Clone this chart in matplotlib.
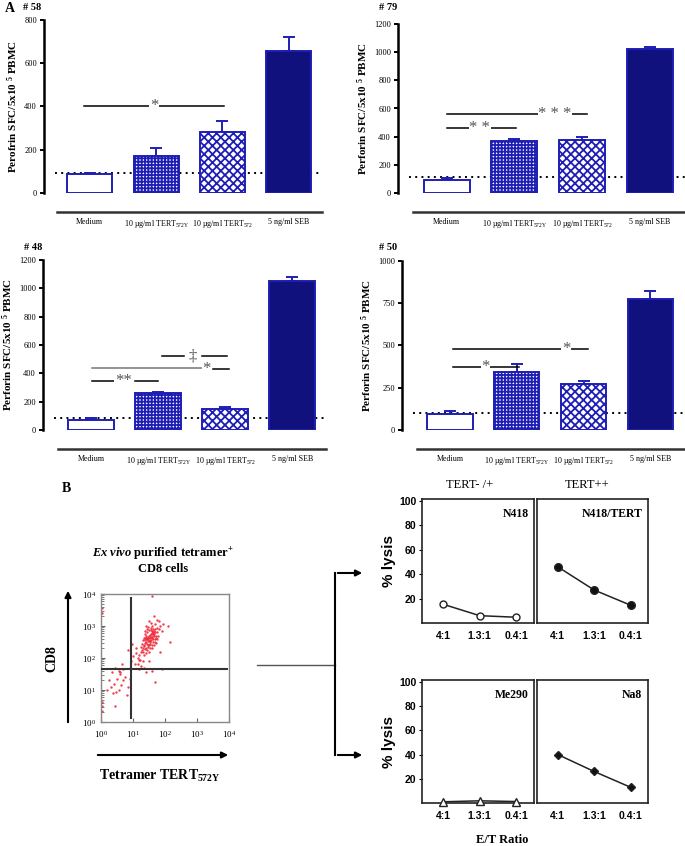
import matplotlib.pyplot as plt
import numpy as np
from matplotlib.patches import FancyArrowPatch
from matplotlib.lines import Line2D

plt.rcParams['font.family'] = 'Liberation Serif'
plt.rcParams['mathtext.fontset'] = 'custom'
plt.rcParams['mathtext.rm'] = 'Liberation Serif'
plt.rcParams['mathtext.it'] = 'Liberation Serif:italic:bold'
plt.rcParams['mathtext.bf'] = 'Liberation Serif:bold'
plt.rcParams['mathtext.default'] = 'regular'
plt.rcParams['hatch.linewidth'] = 1.3

# ---- data: panel A (perforin ELISPOT) ----
groups = ['Medium', '10 µg/ml TERT$_{572Y}$', '10 µg/ml TERT$_{572}$', '5 ng/ml SEB']

p58_vals = [90, 170, 284, 656]
p58_err = [3, 36, 51, 64]
p58_base = 93

p79_vals = [95, 366, 378, 1025]
p79_err = [15, 14, 17, 14]
p79_base = 111

p48_vals = [72, 259, 148, 1052]
p48_err = [10, 12, 17, 30]
p48_base = 87

p50_vals = [93, 344, 270, 778]
p50_err = [19, 46, 21, 43]
p50_base = 102

# ---- data: panel B (lysis) ----
ratios = ['4:1', '1.3:1', '0.4:1']
n418 = [15.4, 6.0, 4.7]
n418_tert = [46, 27, 14.6]
me290 = [1.0, 1.8, 1.2]
na8 = [40, 26, 13]

# flow events, log10 coordinates
flow_logx = [1.45, 1.50, 1.55, 1.60, 1.40, 1.65, 1.52, 1.58, 1.48, 1.70,
             1.35, 1.62, 1.42, 1.75, 1.30, 1.55, 1.68, 1.38, 1.72, 1.50,
             1.45, 1.60, 1.25, 1.80, 1.34, 1.66, 1.44, 1.56, 1.62, 1.40,
             1.28, 1.76, 1.52, 1.47, 1.58, 1.36, 1.70, 1.64, 1.54, 1.42,
             1.20, 1.85, 1.32, 1.78, 1.50, 1.46, 1.60, 1.38, 1.66, 1.74,
             1.56, 1.82, 1.30, 1.24, 1.48, 1.68, 1.52, 1.44, 1.62, 1.36,
             1.15, 1.10, 1.22, 1.90, 1.95, 1.40, 1.58, 1.46, 1.72, 1.34,
             1.49, 1.57, 1.63, 1.41, 1.53, 1.67, 1.37, 1.59, 1.43, 1.51,
             1.33, 1.47, 1.61, 1.55, 1.39, 1.69, 1.27, 1.73, 1.45, 1.53,
             1.65, 1.75, 1.50, 2.10, 2.15, 1.85, 1.58,
             1.00, 0.95, 1.05, 0.90, 1.15, 1.30, 1.60, 1.40, 1.90, 1.70,
             1.20, 0.85, 1.35, 1.50, 1.25, 1.08, 1.18, 0.98,
             0.45, 0.55, 0.60, 0.70, 0.35, 0.50, 0.30, 0.40, 0.55, 0.62,
             0.75, 0.20, 0.48, 0.70, 0.85, 0.90, 0.45, 0.80, 0.25, 0.60,
             0.38, 0.65, 0.02, 0.02, 0.04, 0.02, 0.03]
flow_logy = [2.60, 2.70, 2.55, 2.65, 2.50, 2.75, 2.45, 2.85, 2.35, 2.60,
             2.40, 2.50, 2.70, 2.80, 2.30, 2.95, 2.90, 2.55, 2.70, 2.20,
             2.80, 3.00, 2.20, 2.90, 2.62, 2.42, 2.44, 2.76, 2.82, 2.32,
             2.45, 2.58, 2.62, 2.52, 2.40, 2.75, 3.05, 2.58, 2.32, 2.15,
             2.10, 3.00, 2.18, 2.68, 2.88, 2.66, 2.30, 2.85, 2.68, 2.95,
             3.10, 3.15, 2.55, 2.35, 2.98, 2.50, 2.72, 2.25, 2.92, 2.28,
             2.00, 2.15, 1.95, 2.85, 3.05, 3.00, 2.62, 2.40, 2.48, 2.10,
             2.57, 2.67, 2.73, 2.63, 2.49, 2.83, 2.47, 2.78, 2.58, 2.40,
             2.36, 2.61, 2.77, 2.86, 2.64, 2.82, 2.26, 2.64, 2.90, 2.52,
             3.30, 3.20, 3.15, 3.00, 2.50, 2.20, 3.95,
             2.05, 1.90, 1.80, 1.70, 1.80, 1.90, 1.60, 1.55, 1.65, 1.25,
             1.65, 2.25, 1.70, 1.90, 1.75, 2.30, 1.95, 2.45,
             1.70, 1.60, 1.55, 1.65, 1.55, 1.35, 1.10, 1.20, 1.00, 1.15,
             1.40, 1.00, 0.95, 1.30, 1.10, 1.35, 0.50, 0.85, 1.30, 1.50,
             0.90, 1.80, 0.50, 0.35, 0.62, 3.40, 3.55]

W, H = 685, 846
fig = plt.figure(figsize=(W / 100, H / 100), dpi=100)


def px_axes(left, top, right, bottom):
    return fig.add_axes([left / W, 1 - bottom / H, (right - left) / W, (bottom - top) / H])


def fpt(x, y):
    return (x / W, 1 - y / H)


blue = '#1e1eb4'
navy = '#11117e'


def bar_panel(box, vals, errs, base, ymax, yticks, ylabel, xlim, lines, marks):
    ax = px_axes(*box)
    # spine placement first: moving a spine resets the ticks
    for s in ['top', 'right']:
        ax.spines[s].set_visible(False)
    ax.spines['bottom'].set_position(('outward', 14))
    ax.spines['bottom'].set_bounds(-0.5, 3.5)
    ax.spines['bottom'].set_linewidth(1.8)
    ax.spines['bottom'].set_color('#333333')
    ax.spines['left'].set_linewidth(1.8)
    ax.spines['left'].set_bounds(0, ymax)

    x = np.arange(len(groups))
    styles = [dict(facecolor='white'),
              dict(facecolor='white', hatch='+++++'),
              dict(facecolor='white', hatch='xxxx'),
              dict(facecolor=navy)]
    for i in range(len(groups)):
        ax.bar(x[i], vals[i], width=0.68, edgecolor=blue, linewidth=1.4, zorder=3, **styles[i])
    ax.errorbar(x, vals, yerr=[np.zeros(len(errs)), errs], fmt='none', ecolor=blue,
                elinewidth=1.4, capsize=4, capthick=1.4, zorder=2)
    ax.axhline(base, xmin=0.04, xmax=1, color='black', ls=(0, (1, 2.2)), lw=1.4, zorder=1)
    for x0, x1, y, c in lines:
        ax.plot([x0, x1], [y, y], color=c, lw=1.1, zorder=4)
    for xm, y, s in marks:
        ax.text(xm, y, s, ha='center', va='center', fontsize=12, color='#555555',
                zorder=5, bbox=dict(facecolor='white', edgecolor='none', pad=0.5))
    ax.set_xlim(*xlim)
    ax.set_ylim(0, ymax)
    ax.set_yticks(yticks)
    ax.set_xticks(x)
    ax.set_xticklabels(groups, fontsize=5.8)
    ax.tick_params(axis='x', length=0, pad=4)
    ax.tick_params(axis='y', labelsize=6, length=3, width=1.4, pad=2)
    ax.set_ylabel(ylabel, fontsize=8, fontweight='bold', labelpad=3)
    ax.patch.set_visible(False)
    return ax


lab_perofrin = 'Perofrin SFC/5x10 $^{5}$ PBMC'
lab_perforin = 'Perforin SFC/5x10 $^{5}$ PBMC'

bar_panel((44, 20, 322, 193), p58_vals, p58_err, p58_base, 800, [0, 200, 400, 600, 800],
          lab_perofrin, (-0.69, 3.5),
          [(-0.09, 2.02, 400, 'black')],
          [(0.97, 400, '*')])

bar_panel((398, 24, 685, 193), p79_vals, p79_err, p79_base, 1200, [0, 200, 400, 600, 800, 1000, 1200],
          lab_perforin, (-0.72, 3.52),
          [(0.01, 2.07, 560, 'black'), (0.01, 1.03, 465, 'black')],
          [(1.6, 560, '* * *'), (0.49, 465, '* *')])

bar_panel((43, 260, 325, 430), p48_vals, p48_err, p48_base, 1200, [0, 200, 400, 600, 800, 1000, 1200],
          lab_perforin, (-0.72, 3.49),
          [(0.01, 0.36, 346, 'black'), (0.66, 1.0, 346, 'black'),
           (0.01, 1.66, 435, '#777777'), (1.82, 2.06, 428, 'black'),
           (1.06, 1.39, 522, 'black'), (1.66, 2.03, 522, 'black')],
          [(0.48, 346, '**'), (1.72, 432, '*'), (1.52, 522, '‡')])

bar_panel((402, 261, 685, 430), p50_vals, p50_err, p50_base, 1000, [0, 250, 500, 750, 1000],
          lab_perforin, (-0.72, 3.52),
          [(0.04, 2.07, 482, 'black'), (0.04, 1.04, 374, 'black')],
          [(1.74, 482, '*'), (0.53, 374, '*')])

fig.text(*fpt(5, 9), 'A', fontsize=10, fontweight='bold', va='center')
for (tx, ty), t in zip([(23, 8), (379, 8), (24, 248), (379, 247)], ['# 58', '# 79', '# 48', '# 50']):
    fig.text(*fpt(tx, ty), t, fontsize=7.5, fontweight='bold', va='center')

# ---- panel B: flow dot plot ----
fig.text(*fpt(62, 488), 'B', fontsize=10, fontweight='bold', va='center')
fig.text(*fpt(163, 560), '$\\it{Ex\\ vivo}$ purified tetramer$^{+}$\nCD8 cells', fontsize=9,
         fontweight='bold', ha='center', va='center', linespacing=1.1)

fax = px_axes(101, 594, 229, 722)
fax.scatter(10 ** np.array(flow_logx), 10 ** np.array(flow_logy), s=3, color='#ee2b3b',
            linewidths=0, alpha=0.9, zorder=2)
fax.set_xscale('log')
fax.set_yscale('log')
fax.set_xlim(1, 1e4)
fax.set_ylim(1, 1e4)
decades = [1, 10, 100, 1000, 10000]
fax.set_xticks(decades)
fax.set_yticks(decades)
fax.plot([10 ** 0.93, 10 ** 0.93], [10 ** 0.12, 10 ** 3.87], color='#333333', lw=1.5, zorder=3)
fax.plot([10 ** 0.0, 10 ** 3.93], [10 ** 1.66, 10 ** 1.66], color='#333333', lw=1.5, zorder=3)
for s in fax.spines.values():
    s.set_color('#888888')
    s.set_linewidth(1)
fax.tick_params(which='both', direction='in', top=False, right=False, labelsize=6.5, color='#666666')
fax.tick_params(which='major', length=3)
fax.tick_params(which='minor', length=2)
fax.tick_params(axis='x', pad=5)

fig.add_artist(FancyArrowPatch(fpt(68, 725), fpt(68, 588), transform=fig.transFigure,
                               arrowstyle='-|>', mutation_scale=9, lw=1.5, color='black'))
fig.add_artist(FancyArrowPatch(fpt(95, 755), fpt(231, 755), transform=fig.transFigure,
                               arrowstyle='-|>', mutation_scale=9, lw=1.5, color='black'))
fig.text(*fpt(52, 659), 'CD8', fontsize=10, fontweight='bold', rotation=90, ha='center', va='center')
fig.text(*fpt(160, 776), 'Tetramer TERT$_{572Y}$', fontsize=10, fontweight='bold', ha='center', va='center')

fig.add_artist(Line2D([257 / W, 335 / W], [1 - 665 / H, 1 - 665 / H], transform=fig.transFigure,
                      color='#555555', lw=1))
fig.add_artist(Line2D([335 / W, 335 / W], [1 - 573 / H, 1 - 755 / H], transform=fig.transFigure,
                      color='black', lw=1.5))
for yy in (573, 755):
    fig.add_artist(FancyArrowPatch(fpt(335, yy), fpt(365, yy), transform=fig.transFigure,
                                   arrowstyle='-|>', mutation_scale=9, lw=1.5, color='black'))


# ---- panel B: lysis ----
def lysis_panel(box, vals, marker, mfc, ms, name, show_y):
    ax = px_axes(*box)
    ax.plot(range(len(ratios)), vals, color='#222222', lw=1.1, marker=marker, mfc=mfc,
            mec='#222222', ms=ms, mew=1, clip_on=False, zorder=3)
    ax.set_xlim(-0.57, 2.48)
    ax.set_ylim(0, 101.5)
    ax.set_xticks(range(len(ratios)))
    ax.set_xticklabels(ratios, fontfamily='Liberation Sans', fontweight='bold', fontsize=7.5)
    ax.tick_params(axis='x', length=0, pad=6)
    ax.set_yticks([20, 40, 60, 80, 100])
    if show_y:
        ax.set_yticklabels(['20', '40', '60', '80', '100'], fontfamily='Liberation Sans',
                           fontweight='bold', fontsize=7.5)
        ax.tick_params(axis='y', length=2, pad=2)
        ax.set_ylabel('% lysis', fontfamily='Liberation Sans', fontweight='bold', fontsize=11, labelpad=2)
    else:
        ax.set_yticklabels([])
        ax.tick_params(axis='y', length=0)
    for s in ax.spines.values():
        s.set_linewidth(1.2)
        s.set_color('#222222')
    ax.text(0.95, 0.93, name, transform=ax.transAxes, ha='right', va='top',
            fontsize=8.5, fontweight='bold')
    return ax


lysis_panel((422, 499, 534, 623), n418, 'o', 'white', 5, 'N418', True)
lysis_panel((537, 499, 648, 623), n418_tert, 'o', '#111111', 5.5, 'N418/TERT', False)
lysis_panel((422, 680, 534, 803), me290, '^', 'white', 5.5, 'Me290', True)
lysis_panel((537, 680, 648, 803), na8, 'D', '#111111', 4.5, 'Na8', False)

fig.text(*fpt(470, 485), 'TERT- /+', fontsize=9, ha='center', va='center')
fig.text(*fpt(587, 485), 'TERT++', fontsize=9, ha='center', va='center')
fig.text(*fpt(502, 840), 'E/T Ratio', fontsize=9, fontweight='bold', ha='center', va='center')

fig.savefig('out.png', dpi=100)
